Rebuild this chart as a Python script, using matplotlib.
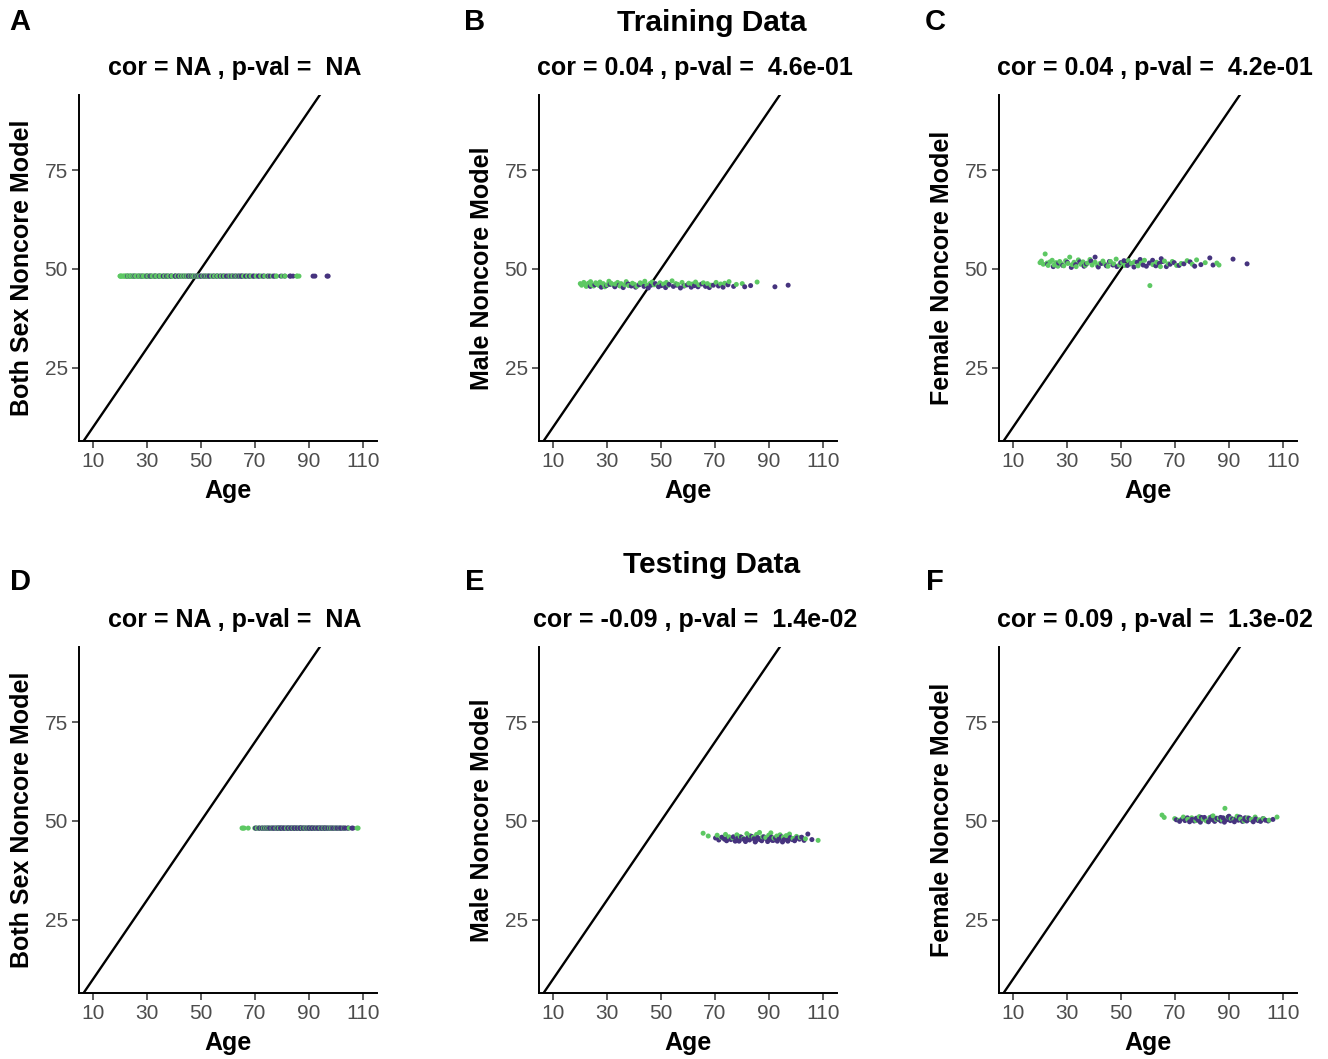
import matplotlib
matplotlib.use("Agg")
import matplotlib.pyplot as plt

plt.rcParams['font.family'] = ['Liberation Sans', 'DejaVu Sans']

# ---------------- data ----------------
x_ticks = [10, 30, 50, 70, 90, 110]
y_ticks = [25, 50, 75]

both_sex_pred = 48.2

train_m_green_age = [20.1, 20.6, 21.4, 22.0, 22.3, 23.1, 23.9, 24.2, 25.0, 25.8, 26.3, 27.1, 27.4, 28.6, 29.2,
                     30.0, 30.7, 31.5, 32.4, 33.0, 33.9, 34.8, 35.2, 36.5, 37.1, 38.0, 39.4, 40.2, 41.0, 42.3,
                     43.1, 44.0, 44.8, 45.9, 46.7, 47.4, 48.8, 49.6, 50.9, 52.0, 52.8, 54.1, 55.5, 56.2, 57.8,
                     58.9, 60.3, 61.6, 62.8, 64.0, 65.7, 67.2, 68.5, 70.4, 72.1, 73.6, 75.2, 77.9, 80.1, 85.6]
train_m_green_pred = [46.3, 45.9, 46.6, 46.1, 45.6, 46.4, 46.8, 46.0, 45.7, 46.5, 46.2, 45.8, 46.7, 46.3, 45.5,
                      46.0, 46.9, 46.4, 45.9, 46.2, 46.6, 45.7, 46.3, 46.0, 46.8, 45.8, 46.4, 46.1, 45.6, 46.5,
                      46.2, 46.9, 45.9, 46.3, 46.7, 46.0, 45.8, 46.5, 46.2, 46.6, 45.9, 47.0, 46.3, 46.1, 46.6,
                      45.8, 46.4, 46.2, 46.7, 46.0, 46.5, 46.3, 45.9, 46.6, 46.2, 46.4, 46.8, 46.1, 46.3, 46.7]
train_m_purple_age = [23.8, 25.5, 27.9, 29.8, 31.1, 32.9, 34.5, 36.0, 37.8, 39.0, 40.6, 41.9, 43.7, 45.3, 46.3,
                      47.9, 49.1, 50.2, 51.7, 53.0, 54.6, 55.9, 57.2, 58.5, 59.8, 61.2, 62.4, 63.7, 65.1, 66.5,
                      67.9, 69.4, 71.3, 73.0, 74.8, 76.9, 81.0, 83.2, 92.2, 97.1]
train_m_purple_pred = [45.6, 46.0, 45.4, 45.8, 46.1, 45.5, 45.9, 45.3, 46.2, 45.7, 45.4, 46.0, 45.6, 45.2, 45.9,
                       46.3, 45.5, 45.8, 45.3, 46.1, 45.6, 45.9, 45.2, 45.7, 46.0, 45.4, 45.8, 45.5, 46.2, 45.6,
                       45.3, 45.9, 45.7, 45.4, 46.0, 45.6, 45.5, 45.8, 45.5, 45.9]

train_f_green_age = [20.0, 20.5, 21.2, 21.9, 22.6, 23.0, 23.7, 24.5, 25.2, 25.9, 26.6, 27.3, 28.0, 28.8, 29.5,
                     30.3, 31.0, 31.9, 32.6, 33.4, 34.2, 35.1, 35.9, 36.8, 37.6, 38.5, 39.3, 40.4, 41.3, 42.2,
                     43.3, 44.1, 45.2, 46.1, 47.3, 48.2, 49.4, 50.6, 51.5, 52.7, 53.9, 55.0, 56.3, 57.5, 58.7,
                     60.7, 61.8, 63.2, 64.6, 66.1, 67.5, 69.0, 70.6, 72.3, 74.5, 76.4, 78.0, 81.2, 85.5, 86.3]
train_f_green_pred = [51.6, 52.0, 51.2, 53.8, 51.5, 50.9, 51.8, 52.2, 51.0, 51.6, 50.7, 51.9, 51.3, 50.8, 52.1,
                      51.4, 53.0, 51.1, 51.7, 50.6, 52.3, 51.2, 51.8, 50.9, 51.5, 52.4, 51.0, 51.7, 50.8, 51.4,
                      52.0, 51.2, 50.7, 51.9, 51.3, 52.5, 51.0, 51.6, 50.9, 52.1, 51.4, 51.8, 50.8, 51.5, 52.2,
                      45.8, 51.1, 51.7, 50.6, 52.0, 51.3, 51.9, 50.9, 51.4, 52.1, 51.2, 52.3, 51.6, 51.5, 51.0]
train_f_purple_age = [22.8, 24.9, 26.9, 28.4, 30.1, 31.6, 33.2, 34.7, 36.3, 37.2, 38.9, 40.4, 41.6, 42.8, 44.6,
                      45.7, 47.0, 48.5, 49.9, 51.1, 52.4, 53.5, 54.8, 56.0, 57.1, 58.2, 59.4, 60.5, 61.7, 62.9,
                      64.2, 65.4, 66.8, 68.2, 69.7, 71.5, 73.3, 75.6, 77.3, 79.6, 82.9, 84.1, 91.5, 96.7, 64.9]
train_f_purple_pred = [51.2, 50.6, 51.5, 50.9, 51.7, 50.4, 51.1, 51.8, 50.7, 51.3, 52.0, 53.0, 50.5, 51.4, 50.8,
                       51.9, 51.0, 50.6, 51.6, 52.1, 50.9, 51.3, 50.5, 51.7, 52.4, 51.0, 50.7, 51.5, 52.2, 50.8,
                       51.4, 51.9, 50.6, 51.2, 51.6, 50.9, 51.3, 51.8, 50.7, 51.1, 52.8, 51.0, 52.5, 51.3, 52.6]

test_m_green_age = [65.6, 67.5, 70.8, 72.3, 73.9, 75.2, 76.6, 78.1, 79.3, 80.5, 81.8, 83.0, 84.2, 85.4, 86.5,
                    87.6, 88.8, 89.9, 90.7, 91.8, 92.9, 94.1, 95.3, 96.4, 97.6, 98.9, 100.2, 101.6, 103.5, 108.2]
test_m_green_pred = [46.9, 46.2, 46.4, 45.8, 46.6, 46.0, 45.7, 46.5, 46.1, 45.6, 46.8, 46.3, 45.9, 46.6, 47.1,
                     46.0, 45.8, 46.4, 47.0, 45.7, 46.2, 46.5, 45.9, 46.3, 46.7, 45.6, 46.1, 45.8, 45.5, 45.1]
test_m_purple_age = [70.2, 71.4, 72.6, 73.5, 74.3, 75.0, 75.9, 76.8, 77.5, 78.4, 79.0, 79.8, 80.6, 81.3, 82.1,
                     82.8, 83.6, 84.4, 85.0, 85.8, 86.6, 87.3, 88.1, 88.7, 89.5, 90.2, 90.9, 91.6, 92.4, 93.1,
                     93.8, 94.6, 95.5, 96.2, 97.0, 97.9, 98.6, 99.5, 100.4, 101.3, 102.1, 103.0, 104.4, 105.9, 87.0,
                     84.9, 91.2, 78.9, 95.0, 82.4]
test_m_purple_pred = [45.7, 45.2, 45.9, 45.4, 45.0, 45.8, 45.3, 46.0, 44.9, 45.6, 45.1, 45.9, 45.4, 44.8, 45.7,
                      45.2, 46.1, 45.5, 44.9, 45.8, 45.3, 45.0, 46.0, 45.6, 44.8, 45.4, 45.9, 45.1, 45.7, 44.9,
                      45.5, 46.0, 45.2, 45.6, 44.9, 45.8, 45.3, 45.0, 45.7, 45.4, 45.9, 45.1, 46.7, 45.3, 45.5,
                      44.7, 45.1, 44.9, 44.7, 45.6]

test_f_green_age = [65.2, 66.0, 69.9, 71.6, 73.1, 74.7, 76.2, 77.7, 79.0, 80.4, 81.7, 82.9, 84.1, 85.3, 86.4,
                    87.5, 88.5, 89.6, 90.8, 91.9, 93.0, 94.3, 95.6, 96.9, 98.3, 99.7, 101.2, 102.8, 104.9, 107.8]
test_f_green_pred = [51.5, 50.9, 50.6, 50.2, 51.0, 50.4, 50.8, 50.1, 51.1, 50.5, 50.0, 50.9, 51.3, 50.4, 50.7,
                     50.2, 53.2, 51.0, 50.6, 50.3, 51.2, 50.5, 50.0, 50.8, 50.4, 51.0, 50.3, 50.6, 50.2, 51.0]
test_f_purple_age = [70.5, 71.7, 72.8, 73.7, 74.6, 75.4, 76.3, 77.1, 77.9, 78.6, 79.4, 80.2, 80.9, 81.6, 82.4,
                     83.2, 84.0, 84.7, 85.5, 86.2, 87.0, 87.8, 88.3, 89.1, 89.8, 90.5, 91.3, 92.0, 92.7, 93.5,
                     94.2, 95.0, 95.8, 96.6, 97.4, 98.2, 99.0, 99.9, 100.8, 101.7, 102.6, 103.5, 104.5, 106.3, 83.7,
                     86.9, 90.0, 93.9, 96.0, 79.8]
test_f_purple_pred = [50.3, 49.9, 50.6, 50.1, 50.8, 49.8, 50.4, 50.0, 50.7, 50.2, 49.7, 50.5, 50.9, 50.1, 49.8,
                      50.6, 50.3, 49.9, 50.7, 50.4, 50.0, 50.8, 49.7, 50.3, 51.0, 50.1, 50.5, 49.8, 50.6, 50.2,
                      50.9, 49.9, 50.4, 50.0, 50.7, 50.3, 49.8, 50.5, 50.1, 49.9, 50.6, 50.2, 50.0, 50.4, 51.1,
                      50.9, 51.2, 51.0, 50.8, 50.9]

panel_titles = ["cor = NA , p-val =  NA", "cor = 0.04 , p-val =  4.6e-01", "cor = 0.04 , p-val =  4.2e-01",
                "cor = NA , p-val =  NA", "cor = -0.09 , p-val =  1.4e-02", "cor = 0.09 , p-val =  1.3e-02"]
y_labels = ["Both Sex Noncore Model", "Male Noncore Model", "Female Noncore Model"] * 2
panel_letters = ["A", "B", "C", "D", "E", "F"]

GREEN = "#5DC863"
PURPLE = "#46337E"

# ---------------- figure ----------------
W, H = 1328, 1059
fig = plt.figure(figsize=(W / 100, H / 100), dpi=100)

def fx(px):
    return px / W

def fy(py):
    return 1 - py / H

ax_lefts = [79, 539, 999]
ax_w = 298
rows = [(95, 441), (647, 993)]

xlim = (4.8, 115.2)
ylim = (6.5, 94.0)

# each panel: list of (ages, preds or constant, colour)
panels_data = [
    [(train_m_green_age, both_sex_pred, GREEN), (train_m_purple_age, both_sex_pred, PURPLE),
     (train_f_green_age, both_sex_pred, GREEN), (train_f_purple_age, both_sex_pred, PURPLE)],
    [(train_m_green_age, train_m_green_pred, GREEN), (train_m_purple_age, train_m_purple_pred, PURPLE)],
    [(train_f_green_age, train_f_green_pred, GREEN), (train_f_purple_age, train_f_purple_pred, PURPLE)],
    [(test_m_green_age, both_sex_pred, GREEN), (test_m_purple_age, both_sex_pred, PURPLE),
     (test_f_green_age, both_sex_pred, GREEN), (test_f_purple_age, both_sex_pred, PURPLE)],
    [(test_m_green_age, test_m_green_pred, GREEN), (test_m_purple_age, test_m_purple_pred, PURPLE)],
    [(test_f_green_age, test_f_green_pred, GREEN), (test_f_purple_age, test_f_purple_pred, PURPLE)],
]

letter_x = [20, 475, 935]
ylab_x = [22, 482, 942]
FS = 18

for i in range(6):
    r, c = divmod(i, 3)
    top, bot = rows[r]
    left = ax_lefts[c]
    ax = fig.add_axes([fx(left), fy(bot), fx(ax_w), (bot - top) / H])
    ax.set_xlim(*xlim)
    ax.set_ylim(*ylim)
    ax.plot([0, 120], [0, 120], color="black", lw=1.7, zorder=1)
    # combine series and draw in order of age so the two colours mix naturally
    pts = []
    for xs, ys, col in panels_data[i]:
        if isinstance(ys, (int, float)):
            ys = [ys] * len(xs)
        pts.extend(zip(xs, ys, [col] * len(xs)))
    pts.sort(key=lambda p: p[0])
    ax.scatter([p[0] for p in pts], [p[1] for p in pts], c=[p[2] for p in pts],
               s=13, linewidths=0, zorder=2)
    ax.set_xticks(x_ticks)
    ax.set_yticks(y_ticks)
    for sp in ["top", "right"]:
        ax.spines[sp].set_visible(False)
    for sp in ["left", "bottom"]:
        ax.spines[sp].set_linewidth(1.4)
        ax.spines[sp].set_color("black")
    ax.tick_params(direction="out", length=5, width=1.1, color="#333333",
                   labelcolor="#4D4D4D", labelsize=15, pad=3)
    cx = left + ax_w / 2
    fig.text(fx(cx), fy(bot + 50), "Age", ha="center", va="center",
             fontsize=FS, fontweight="bold")
    fig.text(fx(cx + 7), fy(top - 27), panel_titles[i], ha="center", va="center",
             fontsize=FS, fontweight="bold")
    fig.text(fx(ylab_x[c]), fy((top + bot) / 2), y_labels[i], rotation=90,
             ha="center", va="center", fontsize=FS, fontweight="bold")
    fig.text(fx(letter_x[c]), fy(top - 73 if r == 0 else top - 65), panel_letters[i],
             ha="center", va="center", fontsize=21, fontweight="bold")

fig.text(fx(712), fy(23), "Training Data", ha="center", va="center", fontsize=21.5, fontweight="bold")
fig.text(fx(712), fy(565), "Testing Data", ha="center", va="center", fontsize=21.5, fontweight="bold")

fig.savefig("out.png", dpi=100, facecolor="white")
